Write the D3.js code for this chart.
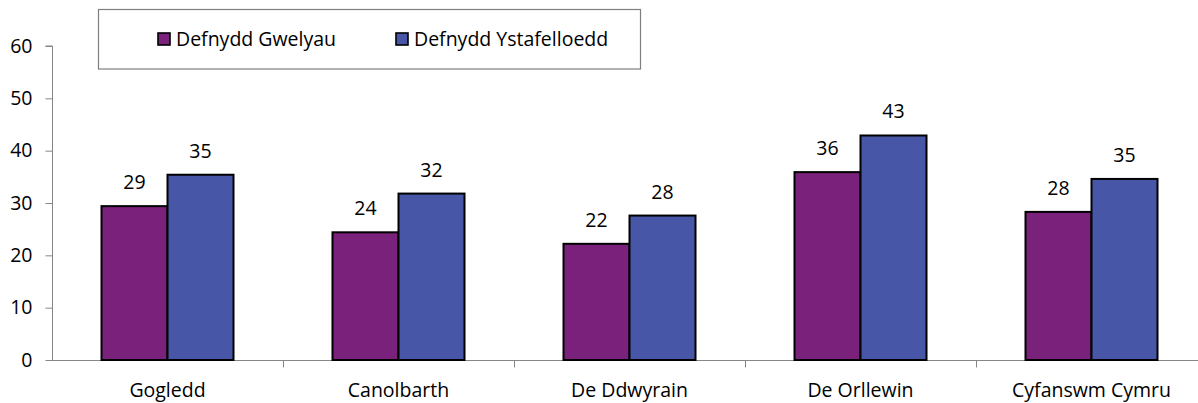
<!DOCTYPE html>
<html>
<head>
<meta charset="utf-8">
<script src="https://cdn.jsdelivr.net/npm/d3@7"></script>
<style>
  html, body { margin: 0; padding: 0; background: #fff; }
  svg { display: block; font-family: "Open Sans", sans-serif; }
</style>
</head>
<body>
<svg id="chart" width="1198" height="403"></svg>
<script>
const categories = ["Gogledd", "Canolbarth", "De Ddwyrain", "De Orllewin", "Cyfanswm Cymru"];
const seriesNames = ["Defnydd Gwelyau", "Defnydd Ystafelloedd"];
const bedValues = [29.4, 24.4, 22.2, 35.9, 28.3];
const roomValues = [35.4, 31.8, 27.6, 42.9, 34.6];
const yTicks = [0, 10, 20, 30, 40, 50, 60];
const colors = ["#7a217c", "#4756a6"];

const svg = d3.select("#chart");
const fontSize = 19.5;
const axisColor = "#868686";

const y = d3.scaleLinear().domain([0, 60]).range([360, 46]);
const x0 = d3.scaleBand().domain(categories).range([52, 1207]).paddingInner(0).paddingOuter(0);
const x1 = d3.scaleBand().domain(seriesNames).range([0, x0.bandwidth()]).paddingInner(0).paddingOuter(0.75);

const series = [bedValues, roomValues];

// Y axis
const yAxis = d3.axisLeft(y).tickValues(yTicks).tickSize(7).tickPadding(8);
const gy = svg.append("g").attr("transform", "translate(52.5,0)").call(yAxis);
gy.select(".domain").attr("stroke", axisColor).attr("d", `M-7,${y(60)}H0V${y(0)}`);
gy.selectAll(".tick line").attr("stroke", axisColor);
gy.selectAll(".tick text").attr("font-size", fontSize).attr("fill", "#000")
  .attr("font-family", "Open Sans, sans-serif").attr("dx", "-5");

// X axis
const gx = svg.append("g").attr("transform", `translate(0,${y(0) + 0.5})`);
gx.append("line").attr("x1", 52).attr("x2", 1207).attr("stroke", axisColor);
gx.selectAll("line.tk").data(categories.slice(1)).enter().append("line")
  .attr("class", "tk")
  .attr("x1", d => Math.round(x0(d)) + 0.5).attr("x2", d => Math.round(x0(d)) + 0.5)
  .attr("y1", 0).attr("y2", 7).attr("stroke", axisColor);
gx.selectAll("text").data(categories).enter().append("text")
  .attr("x", d => x0(d) + x0.bandwidth() / 2)
  .attr("y", 36)
  .attr("text-anchor", "middle")
  .attr("font-size", fontSize)
  .text(d => d);

// Bars
const groups = svg.append("g").selectAll("g").data(categories).enter().append("g")
  .attr("transform", d => `translate(${x0(d)},0)`);

seriesNames.forEach((s, si) => {
  groups.append("rect")
    .attr("x", (d, i) => x1(s))
    .attr("y", (d, i) => y(series[si][i]))
    .attr("width", x1.bandwidth())
    .attr("height", (d, i) => y(0) - y(series[si][i]))
    .attr("fill", colors[si])
    .attr("stroke", "#000")
    .attr("stroke-width", 2);
  groups.append("text")
    .attr("x", x1(s) + x1.bandwidth() / 2)
    .attr("y", (d, i) => y(series[si][i]) - 17)
    .attr("text-anchor", "middle")
    .attr("font-size", fontSize)
    .text((d, i) => d3.format(".0f")(series[si][i]));
});

// Legend
const legend = svg.append("g");
legend.append("rect").attr("x", 98.5).attr("y", 9.5).attr("width", 542).attr("height", 59.5)
  .attr("fill", "#fff").attr("stroke", "#7f7f7f").attr("stroke-width", 1.2);
const legX = [157, 395];
seriesNames.forEach((s, si) => {
  legend.append("rect").attr("x", legX[si] + 1).attr("y", 33).attr("width", 12).attr("height", 12)
    .attr("fill", colors[si]).attr("stroke", "#000").attr("stroke-width", 1.6);
  legend.append("text").attr("x", legX[si] + 19).attr("y", 46)
    .attr("font-size", fontSize).text(s);
});
</script>
</body>
</html>
